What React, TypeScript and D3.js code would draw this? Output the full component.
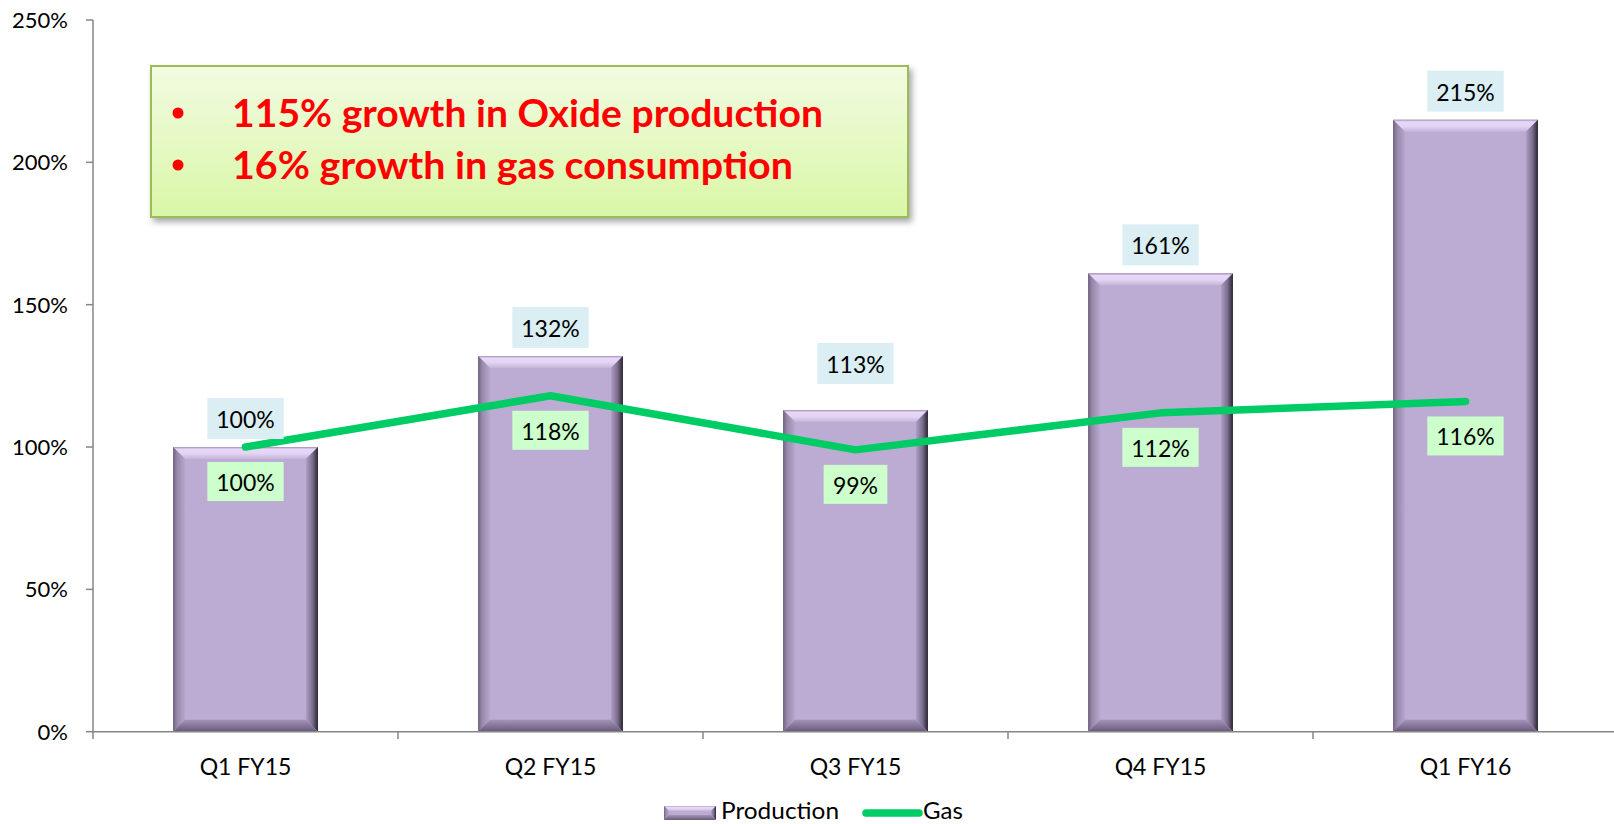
import React from "react";
import * as d3 from "d3";

const categories = ["Q1 FY15", "Q2 FY15", "Q3 FY15", "Q4 FY15", "Q1 FY16"];
const production = [1.0, 1.32, 1.13, 1.61, 2.15];
const gas = [1.0, 1.18, 0.99, 1.12, 1.16];
const productionLabels = ["100%", "132%", "113%", "161%", "215%"];
const gasLabels = ["100%", "118%", "99%", "112%", "116%"];
const yTicks = [0, 0.5, 1, 1.5, 2, 2.5];
const prodLabelNudge = [0, 0, -18, 0, 0];
const notes = ["115% growth in Oxide production", "16% growth in gas consumption"];

const W = 1614;
const H = 824;
const FONT = "Lato, 'Open Sans', sans-serif";

function Bevel({ x0, x1, y0, y1, b, id }: { x0: number; x1: number; y0: number; y1: number; b: number; id: string }) {
  const bb = Math.min(b, (y1 - y0) / 2, (x1 - x0) / 2);
  const p = (pts: number[][]) => pts.map((q) => q.join(",")).join(" ");
  return (
    <g>
      <rect x={x0} y={y0} width={x1 - x0} height={y1 - y0} fill="#BCACD3" />
      <polygon points={p([[x0, y0], [x1, y0], [x1 - bb, y0 + bb], [x0 + bb, y0 + bb]])} fill={`url(#${id}-top)`} />
      <polygon points={p([[x0, y0], [x0 + bb, y0 + bb], [x0 + bb, y1 - bb], [x0, y1]])} fill={`url(#${id}-left)`} />
      <polygon points={p([[x1, y0], [x1, y1], [x1 - bb, y1 - bb], [x1 - bb, y0 + bb]])} fill={`url(#${id}-right)`} />
      <polygon points={p([[x0, y1], [x1, y1], [x1 - bb, y1 - bb], [x0 + bb, y1 - bb]])} fill={`url(#${id}-bottom)`} />
    </g>
  );
}

function BevelDefs({ id }: { id: string }) {
  return (
    <>
      <linearGradient id={`${id}-top`} x1="0" y1="0" x2="0" y2="1">
        <stop offset="0" stopColor="#9F90B5" />
        <stop offset="0.18" stopColor="#E6D8F6" />
        <stop offset="0.55" stopColor="#E3D4F3" />
        <stop offset="1" stopColor="#C4B4DA" />
      </linearGradient>
      <linearGradient id={`${id}-left`} x1="0" y1="0" x2="1" y2="0">
        <stop offset="0" stopColor="#6F637F" />
        <stop offset="0.35" stopColor="#978AAB" />
        <stop offset="1" stopColor="#B7A7CE" />
      </linearGradient>
      <linearGradient id={`${id}-right`} x1="0" y1="0" x2="1" y2="0">
        <stop offset="0" stopColor="#AE9FC4" />
        <stop offset="0.55" stopColor="#7A6D8D" />
        <stop offset="1" stopColor="#29242F" />
      </linearGradient>
      <linearGradient id={`${id}-bottom`} x1="0" y1="0" x2="0" y2="1">
        <stop offset="0" stopColor="#A394B8" />
        <stop offset="1" stopColor="#675A79" />
      </linearGradient>
    </>
  );
}

export default function App() {
  const y = d3.scaleLinear().domain([0, 2.5]).range([731.7, 20]);
  const x = d3.scaleBand<string>().domain(categories).range([93, 1618]).padding(0);
  const bw = x.bandwidth() * 0.475;
  const cx = (c: string) => (x(c) as number) + x.bandwidth() / 2;
  const line = d3
    .line<number>()
    .x((_, i) => cx(categories[i]))
    .y((v) => y(v));
  const labelW = (s: string) => (s.length - 1) * 12.6 + 19.5 + 19;
  const axisColor = "#868686";

  return (
    <svg width={W} height={H} style={{ position: "absolute", left: 0, top: 0, background: "#fff" }} fontFamily={FONT}>
      <defs>
        <BevelDefs id="bv" />
        <BevelDefs id="lg" />
        <linearGradient id="noteFill" x1="0" y1="0" x2="0" y2="1">
          <stop offset="0" stopColor="#F2FBE2" />
          <stop offset="1" stopColor="#D9F7A6" />
        </linearGradient>
        <filter id="shadow" x="-5%" y="-10%" width="115%" height="130%">
          <feDropShadow dx="3" dy="4" stdDeviation="3" floodColor="#000" floodOpacity="0.35" />
        </filter>
      </defs>

      {/* y axis */}
      <line x1={93} x2={93} y1={y(2.5)} y2={739} stroke={axisColor} strokeWidth={1.5} />
      {yTicks.map((t) => (
        <g key={t}>
          <line x1={86} x2={93} y1={y(t)} y2={y(t)} stroke={axisColor} strokeWidth={1.5} />
          <text x={68} y={y(t) + 8} textAnchor="end" fontSize={22} fill="#000">
            {d3.format(".0%")(t)}
          </text>
        </g>
      ))}

      {/* bars */}
      {categories.map((c, i) => {
        const x0 = cx(c) - bw / 2;
        return <Bevel key={c} id="bv" x0={x0} x1={x0 + bw} y0={y(production[i])} y1={y(0)} b={12} />;
      })}

      {/* x axis */}
      <line x1={93} x2={W} y1={y(0)} y2={y(0)} stroke={axisColor} strokeWidth={1.5} />
      {categories.map((c) => (
        <line key={c} x1={(x(c) as number) + x.bandwidth()} x2={(x(c) as number) + x.bandwidth()} y1={y(0)} y2={739} stroke={axisColor} strokeWidth={1.5} />
      ))}
      {categories.map((c) => (
        <text key={c} x={cx(c)} y={775} textAnchor="middle" fontSize={23} fill="#000">
          {c}
        </text>
      ))}

      {/* gas line */}
      <path d={line(gas) as string} fill="none" stroke="#00CC66" strokeWidth={7.5} strokeLinecap="round" strokeLinejoin="round" />

      {/* production labels */}
      {categories.map((c, i) => {
        const w = labelW(productionLabels[i]);
        const top = y(production[i]) - 8 - 41 + prodLabelNudge[i];
        return (
          <g key={c}>
            <rect x={cx(c) - w / 2} y={top} width={w} height={41} fill="#DAEEF3" />
            <text x={cx(c)} y={top + 30} textAnchor="middle" fontSize={23} fill="#000">
              {productionLabels[i]}
            </text>
          </g>
        );
      })}

      {/* gas labels */}
      {categories.map((c, i) => {
        const w = labelW(gasLabels[i]);
        const top = y(gas[i]) + 15;
        return (
          <g key={c}>
            <rect x={cx(c) - w / 2} y={top} width={w} height={39} fill="#CCFFCC" />
            <text x={cx(c)} y={top + 29} textAnchor="middle" fontSize={23} fill="#000">
              {gasLabels[i]}
            </text>
          </g>
        );
      })}

      {/* annotation box */}
      <rect x={151} y={66} width={757} height={151} fill="url(#noteFill)" stroke="#9BBB59" strokeWidth={2} filter="url(#shadow)" />
      {notes.map((n, i) => (
        <g key={n}>
          <circle cx={178} cy={113 + i * 52} r={5.5} fill="#FF0000" />
          <text x={232} y={127 + i * 52} fontSize={38} fontWeight="bold" fill="#FF0000" textLength={i === 0 ? 591 : 561} lengthAdjust="spacingAndGlyphs">
            {n}
          </text>
        </g>
      ))}

      {/* legend */}
      <Bevel id="lg" x0={664} x1={716} y0={806} y1={820} b={5} />
      <text x={721} y={819} fontSize={24} fill="#000" textLength={118} lengthAdjust="spacingAndGlyphs">Production</text>
      <line x1={866} x2={919} y1={813} y2={813} stroke="#00CC66" strokeWidth={7.5} strokeLinecap="round" />
      <text x={923} y={819} fontSize={24} fill="#000">Gas</text>
    </svg>
  );
}
